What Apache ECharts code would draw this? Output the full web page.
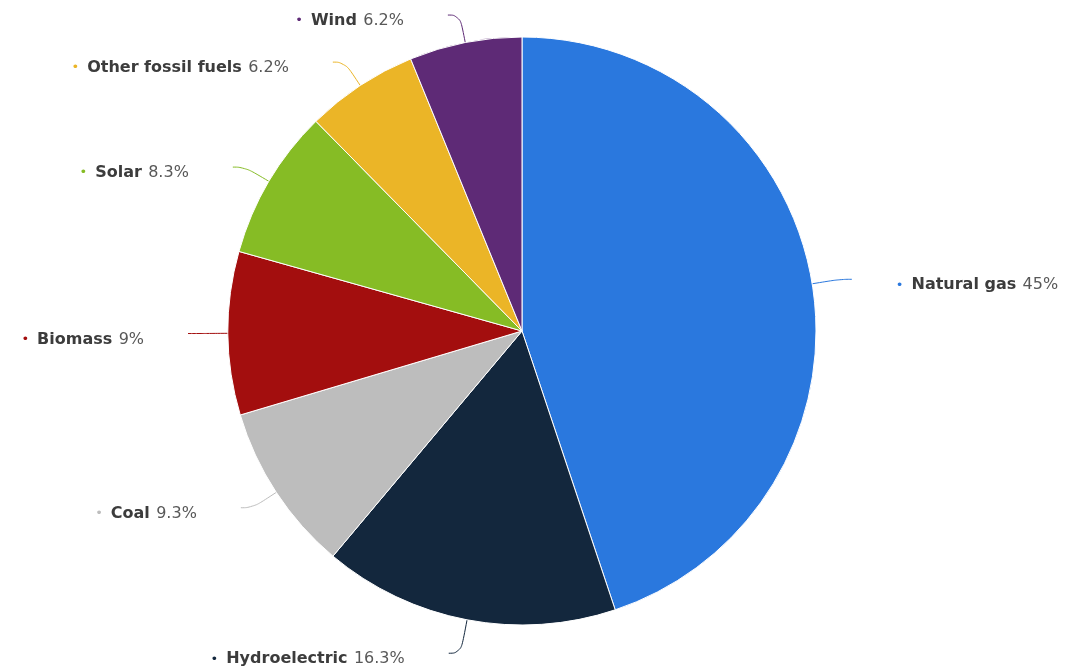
<!DOCTYPE html>
<html>
<head>
<meta charset="utf-8">
<script src="https://cdn.jsdelivr.net/npm/echarts@6/dist/echarts.min.js"></script>
<style>
  html, body { margin: 0; padding: 0; background: #ffffff; }
  #chart { width: 1077px; height: 671px; }
</style>
</head>
<body>
<div id="chart"></div>
<script>
// Electricity generation share by source (%)
const sources = ['Natural gas', 'Hydroelectric', 'Coal', 'Biomass', 'Solar', 'Other fossil fuels', 'Wind'];
const shares = [45, 16.3, 9.3, 9, 8.3, 6.2, 6.2];
const shareLabels = ['45%', '16.3%', '9.3%', '9%', '8.3%', '6.2%', '6.2%'];
const palette = ['#2a78de', '#13273d', '#bdbdbd', '#a30e0e', '#86bc25', '#ebb527', '#5e2a76'];

const labelFont = 'DejaVu Sans';
const rich = {
  name: { fontFamily: labelFont, fontSize: 16, fontWeight: 'bold', color: '#3c3c3c' },
  val: { fontFamily: labelFont, fontSize: 16, color: '#585858', padding: [0, 0, 0, 3] }
};
palette.forEach((c, i) => {
  rich['dot' + i] = { fontFamily: labelFont, fontSize: 13, color: c, padding: [0, 8, 0, 0] };
});

const data = sources.map((name, i) => ({
  name: name,
  value: shares[i],
  itemStyle: { color: palette[i] },
  labelLine: { lineStyle: { color: palette[i] } }
}));
// the bottom label hangs a little lower under the pie
data[1].labelLine.length = 34;

const chart = echarts.init(document.getElementById('chart'));
chart.setOption({
  animation: false,
  backgroundColor: '#ffffff',
  series: [{
    type: 'pie',
    center: [522, 331],
    radius: 294,
    startAngle: 90,
    clockwise: true,
    itemStyle: { borderColor: '#ffffff', borderWidth: 1 },
    label: {
      formatter: p => '{dot' + p.dataIndex + '|•}{name|' + p.name + '} {val|' + shareLabels[p.dataIndex] + '}',
      rich: rich,
      distanceToLabelLine: 44,
      padding: [12, 0, 0, 0]
    },
    labelLine: {
      show: true,
      length: 28,
      length2: 12,
      smooth: 0.5,
      lineStyle: { width: 1 }
    },
    data: data
  }]
});
</script>
</body>
</html>
